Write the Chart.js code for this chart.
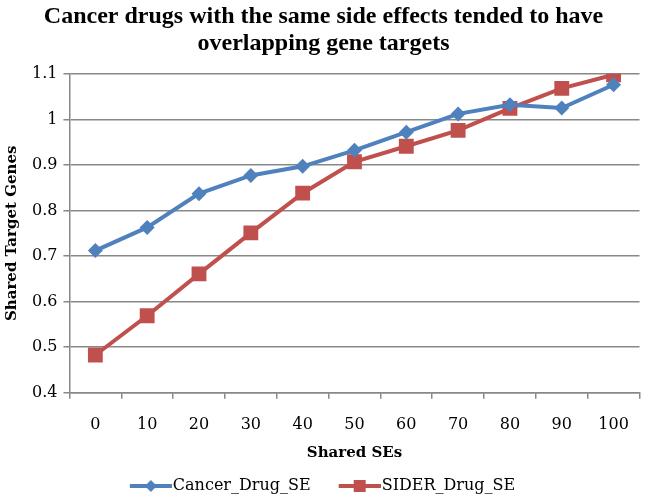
<!DOCTYPE html>
<html>
<head>
<meta charset="utf-8">
<script src="https://cdn.jsdelivr.net/npm/chart.js@4"></script>
<style>
    body { margin: 0; background: #fff; }
    #wrap { width: 650px; height: 498px; }
</style>
</head>
<body>
<div id="wrap"><canvas id="seChart"></canvas></div>
<script>
// Data
const sharedSEs = ['0', '10', '20', '30', '40', '50', '60', '70', '80', '90', '100'];
const cancerDrugSE = [0.712, 0.763, 0.837, 0.877, 0.897, 0.932, 0.972, 1.012, 1.032, 1.025, 1.076];
const siderDrugSE = [0.483, 0.569, 0.661, 0.751, 0.838, 0.907, 0.941, 0.976, 1.024, 1.068, 1.098];

const BLUE = '#4F81BD';
const RED = '#C0504D';
const GRID = '#888888';
const titleFont = '"Liberation Serif", "Times New Roman", serif';
const bodyFont = '"DejaVu Serif", serif';

// legend swatch: short line with the marker on it, drawn at the right end
// of a wider canvas so the text sits right after it
function legendSwatch(color, style) {
    const c = document.createElement('canvas');
    c.width = 67;
    c.height = 14;
    const g = c.getContext('2d');
    const x0 = 25, x1 = 67, mid = (x0 + x1) / 2;
    g.strokeStyle = color;
    g.lineWidth = 4;
    g.beginPath();
    g.moveTo(x0, 7);
    g.lineTo(x1, 7);
    g.stroke();
    g.fillStyle = color;
    if (style === 'diamond') {
        g.beginPath();
        g.moveTo(mid, 1);
        g.lineTo(mid + 6, 7);
        g.lineTo(mid, 13);
        g.lineTo(mid - 6, 7);
        g.closePath();
        g.fill();
    } else {
        g.fillRect(mid - 6, 1, 12, 12);
    }
    return c;
}

// nudge the legend box a little (left and down) after layout
const legendNudge = {
    id: 'legendNudge',
    afterLayout(chart) {
        const lg = chart.legend;
        if (!lg) return;
        lg.left -= 10;
        lg.right -= 10;
        lg.top += 6;
        lg.bottom += 6;
    }
};

document.addEventListener('DOMContentLoaded', function() {
    const ctx = document.getElementById('seChart').getContext('2d');
    new Chart(ctx, {
        type: 'line',
        data: {
            labels: sharedSEs,
            datasets: [{
                label: 'Cancer_Drug_SE',
                data: cancerDrugSE,
                borderColor: BLUE,
                backgroundColor: BLUE,
                borderWidth: 4,
                pointStyle: 'rectRot',
                pointRadius: 7.5,
                pointBorderWidth: 0,
                tension: 0
            }, {
                label: 'SIDER_Drug_SE',
                data: siderDrugSE,
                borderColor: RED,
                backgroundColor: RED,
                borderWidth: 4,
                pointStyle: 'rect',
                pointRadius: 10.5,
                pointBorderWidth: 0,
                tension: 0
            }]
        },
        plugins: [legendNudge],
        options: {
            responsive: true,
            maintainAspectRatio: false,
            animation: false,
            layout: { padding: { left: 1, right: 4, top: 0, bottom: 0 } },
            plugins: {
                title: {
                    display: true,
                    text: ['Cancer drugs with the same side effects tended to have', 'overlapping gene targets'],
                    color: '#000',
                    font: { family: titleFont, size: 24, weight: 'bold', lineHeight: 1.1 },
                    padding: { top: 4, bottom: 17 }
                },
                legend: {
                    position: 'bottom',
                    labels: {
                        usePointStyle: true,
                        pointStyleWidth: 53,
                        generateLabels: function(chart) {
                            return chart.data.datasets.map((ds, i) => ({
                                text: ds.label,
                                fillStyle: ds.borderColor,
                                strokeStyle: ds.borderColor,
                                lineWidth: 0,
                                pointStyle: legendSwatch(ds.borderColor, i === 0 ? 'diamond' : 'square'),
                                datasetIndex: i,
                                fontColor: '#000'
                            }));
                        },
                        color: '#000',
                        font: { family: bodyFont, size: 16 },
                        padding: 10
                    }
                },
                tooltip: { enabled: false }
            },
            scales: {
                x: {
                    offset: true,
                    afterFit: function(scale) {
                        // labels fit inside the offset bands, no extra room needed
                        scale.paddingRight = 0;
                    },
                    grid: {
                        offset: true,
                        drawOnChartArea: false,
                        drawTicks: true,
                        tickLength: 6,
                        color: GRID,
                        lineWidth: 1.5
                    },
                    border: { color: GRID, width: 1.5 },
                    ticks: {
                        color: '#000',
                        font: { family: bodyFont, size: 16 },
                        padding: 16,
                        maxRotation: 0
                    },
                    title: {
                        display: true,
                        text: 'Shared SEs',
                        color: '#000',
                        font: { family: bodyFont, size: 15, weight: 'bold' },
                        padding: { top: -6, bottom: 0 }
                    }
                },
                y: {
                    min: 0.4,
                    max: 1.1,
                    grid: {
                        color: GRID,
                        lineWidth: 1.5,
                        drawTicks: true,
                        tickLength: 6
                    },
                    border: { color: GRID, width: 1.5 },
                    ticks: {
                        stepSize: 0.1,
                        color: '#000',
                        font: { family: bodyFont, size: 16 },
                        padding: 6,
                        callback: function(v) {
                            return Math.round(v * 10) / 10;
                        }
                    },
                    title: {
                        display: true,
                        text: 'Shared Target Genes',
                        color: '#000',
                        font: { family: bodyFont, size: 15, weight: 'bold' },
                        padding: { top: 2, bottom: 5 }
                    }
                }
            }
        }
    });
});
</script>
</body>
</html>
